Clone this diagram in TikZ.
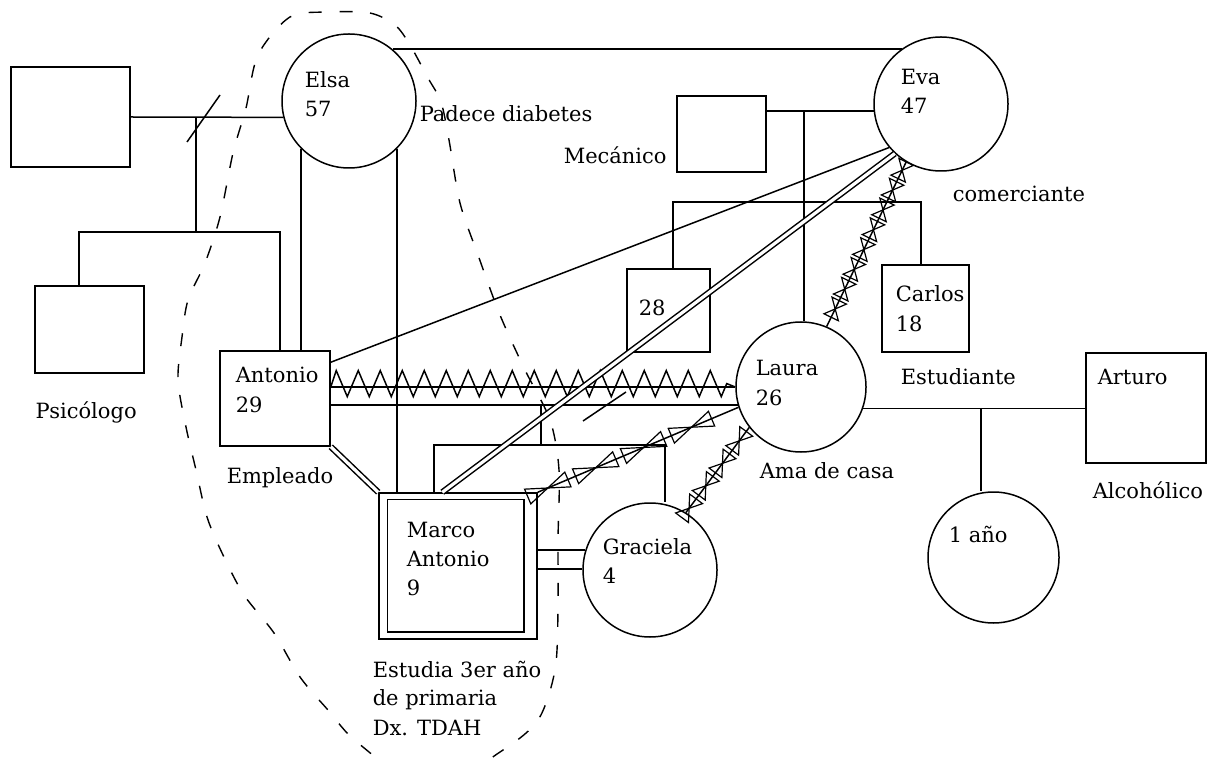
\documentclass[tikz,border=0pt]{standalone}
\usepackage{fontspec}
\setmainfont{DejaVu Serif}
\usetikzlibrary{
    calc,
    decorations.pathmorphing,
    decorations.markings
}

\begin{document}
\begin{tikzpicture}[
        x=0.5pt, y=-0.5pt, line width=0.75pt,
        hombre/.style={draw, rectangle, inner sep=0pt},
        mujer/.style={draw, circle, inner sep=0pt},
        nombre/.style={anchor=base west, inner sep=0pt, font=\fontsize{10.5}{12}\selectfont},
        doble/.style={double, double distance=1.6pt},
        conflicto/.style={postaction={draw, decorate, decoration={zigzag, segment length=11pt, amplitude=6.5pt, raise=1.7pt}}},
        fusion/.style={postaction={decorate, decoration={markings,
            mark=between positions 0.05 and 0.97 step #1 with {\draw[line width=0.6pt]
                (-0.42*#1,-4pt) -- (0.42*#1,4pt) -- (0.42*#1,-4pt) -- (-0.42*#1,4pt) -- cycle;}}}},
        hogar/.style={line width=0.7pt, dash pattern=on 6.5pt off 9pt}
    ]
    \useasboundingbox (0,0) rectangle (1208,758);

    % personas
    \node[hombre, minimum width=59.5pt, minimum height=50pt] (abuelo) at (70.5,117) {};
    \node[mujer, minimum size=67pt] (elsa) at (349,101) {};
    \node[hombre, minimum width=54.5pt, minimum height=43.5pt] (psico) at (89.5,329.5) {};
    \node[hombre, minimum width=55pt, minimum height=47.5pt] (antonio) at (275,398.5) {};
    \node[hombre, minimum width=79pt, minimum height=73pt] (marco) at (458,566) {};
    \node[mujer, minimum size=67pt] (graciela) at (650,570) {};
    \node[hombre, minimum width=44.5pt, minimum height=38pt] (mecanico) at (721.5,134) {};
    \node[mujer, minimum size=67pt] (eva) at (941,104) {};
    \node[hombre, minimum width=41.5pt, minimum height=41.5pt] (hijo) at (668.5,310.5) {};
    \node[hombre, minimum width=43.5pt, minimum height=43.5pt] (carlos) at (925.5,308.5) {};
    \node[mujer, minimum size=65pt] (laura) at (801,387) {};
    \node[hombre, minimum width=60pt, minimum height=55pt] (arturo) at (1146,408) {};
    \node[mujer, minimum size=65.5pt] (bebe) at (993.5,557.5) {};
    \draw ([shift={(9,7)}]marco.north west) rectangle ([shift={(-14,-8)}]marco.south east);

    \coordinate (m1) at (196,117);
    \coordinate (h1) at (79,232);
    \coordinate (h2) at (280,232);
    \coordinate (m2) at (804,111);
    \coordinate (h3) at (673,202);
    \coordinate (h4) at (921,202);
    \coordinate (m3) at (541,405);
    \coordinate (h5) at (434,445);
    \coordinate (h6) at (665,445);
    \coordinate (m4) at (981,408);

    % uniones e hijos
    \draw (abuelo.east) -- (elsa.194);
    \draw (m1) -- (m1 |- h1);
    \draw (psico.north -| h1) -- (h1) -- (h2) -- (h2 |- antonio.north);
    \draw (elsa.-135) -- (elsa.-135 |- antonio.north);
    \draw (elsa.-45) -- (elsa.-45 |- marco.north);
    \draw (elsa.50) -- (eva.125 |- elsa.50);
    \draw (mecanico.east |- eva.186) -- (eva.186);
    \draw (m2) -- (m2 |- laura.north);
    \draw (h3 |- hijo.north) -- (h3) -- (h4) -- (h4 |- carlos.north);
    \draw (laura.-19) -- (laura.-19 -| arturo.west);
    \draw (m4) -- (m4 |- bebe.north);
    \draw[conflicto] (antonio.east |- laura.west) -- (laura.west);
    \draw (laura.196) -- (laura.196 -| antonio.east);
    \draw (m3) -- (m3 |- h5);
    \draw (h5 |- marco.north) -- (h5) -- (h6) -- (h6 |- graciela.north);

    % relaciones
    \draw ([shift={(0,12)}]antonio.north east) -- (eva.220);
    \draw[doble] ([shift={(64,0)}]marco.north west) -- (eva.227);
    \draw[doble] (antonio.south east) -- (marco.north west);
    \draw (graciela.163) -- (graciela.163 -| marco.east);
    \draw (graciela.179) -- (graciela.179 -| marco.east);
    \draw[fusion=11pt] (eva.239) -- (laura.67);
    \draw[fusion=26pt] (marco.north east) -- (laura.198);
    \draw[fusion=14pt] (graciela.58) -- (laura.218);
    \draw (187,142) -- (220,95);
    \draw (583,421) -- (626,392);

    % hogar
    \draw[hogar] plot[smooth cycle] coordinates {(330,12) (370,13) (395,25) (410,45) (428,78) (441,102)
        (449,140) (460,203) (478,255) (500,315) (525,370) (550,420) (559,470) (558,540)
        (558,610) (555,670) (538,720) (500,752) (430,790) (358,743) (328,710) (300,677)
        (274,633) (244,595) (223,555) (207,517) (196,470) (186,427) (178,380) (182,337)
        (188,300) (205,263) (220,217) (233,153) (246,108) (258,55) (290,17)};

    % textos
    \foreach \px/\py/\txt [count=\i] in {
        304/88/Elsa, 304/117/57, 419/122/Padece diabetes,
        900/85/Eva, 900/114/47, 563/164/Mecánico, 952/202/comerciante,
        638/316/28, 895/302/Carlos, 895/332/18,
        755/376/Laura, 755/406/26, 900/385/Estudiante, 759/478/Ama de casa,
        1097/385/Arturo, 1092/498/Alcohólico, 948/542/1 año,
        235/383/Antonio, 235/413/29, 226/483/Empleado, 35/418/Psicólogo,
        406/537/Marco, 406/566/Antonio, 406/595/9,
        602/554/Graciela, 602/583/4,
        372/677/Estudia 3er año, 372/705/de primaria, 372/735/Dx. TDAH} {
        \node[nombre] (t\i) at (\px,\py) {\txt};
    }
\end{tikzpicture}
\end{document}
